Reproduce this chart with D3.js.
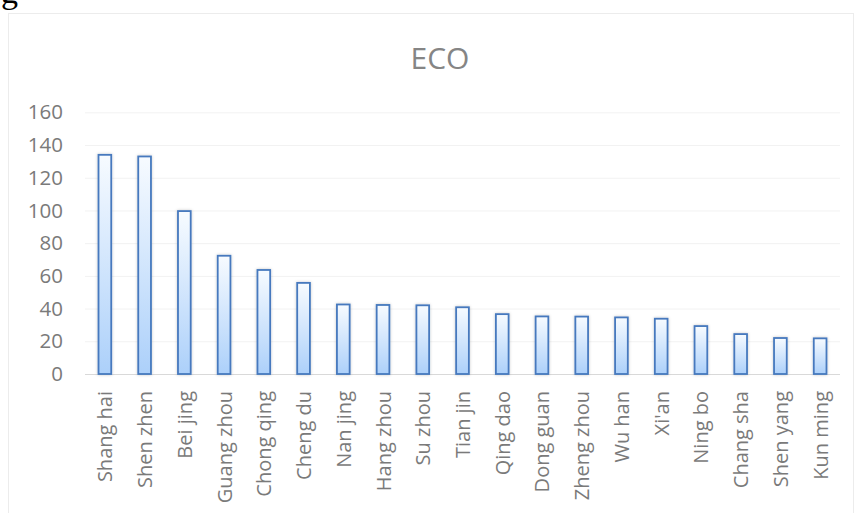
<!DOCTYPE html>
<html>
<head>
<meta charset="utf-8">
<script src="https://cdn.jsdelivr.net/npm/d3@7"></script>
<style>
  html, body { margin: 0; padding: 0; background: #fff; }
  svg { display: block; }
</style>
</head>
<body>
<svg id="chart" width="855" height="513"></svg>
<script>
// ECO score by city
const cities = ["Shang hai", "Shen zhen", "Bei jing", "Guang zhou", "Chong qing", "Cheng du",
  "Nan jing", "Hang zhou", "Su zhou", "Tian jin", "Qing dao", "Dong guan", "Zheng zhou",
  "Wu han", "Xi'an", "Ning bo", "Chang sha", "Shen yang", "Kun ming"];
const ecoValues = [134, 133, 99.6, 72.3, 63.6, 55.7, 42.5, 42.2, 42, 40.8, 36.6, 35.2, 35.1,
  34.6, 33.8, 29.3, 24.4, 22, 21.8];
const yTicks = [0, 20, 40, 60, 80, 100, 120, 140, 160];
const chartTitle = "ECO";

const svg = d3.select("#chart");
const font = "'Open Sans', 'DejaVu Sans', sans-serif";
const margin = { left: 85, right: 840, top: 112.3, bottom: 374 };

// Caption fragment from the line above the chart
svg.append("text")
  .attr("x", 1).attr("y", 3)
  .attr("font-family", "'Liberation Serif', serif")
  .attr("font-size", 34)
  .attr("fill", "#000")
  .text("g");

// Chart frame
svg.append("rect")
  .attr("x", 8.5).attr("y", 13.5)
  .attr("width", 845).attr("height", 520)
  .attr("fill", "#fff")
  .attr("stroke", "#ececec")
  .attr("stroke-width", 1);

const defs = svg.append("defs");
const grad = defs.append("linearGradient")
  .attr("id", "barFill").attr("x1", 0).attr("y1", 0).attr("x2", 0).attr("y2", 1);
grad.append("stop").attr("offset", "0%").attr("stop-color", "#f7fbff");
grad.append("stop").attr("offset", "100%").attr("stop-color", "#acd0fa");

const shadow = defs.append("filter").attr("id", "barShadow")
  .attr("x", "-50%").attr("y", "-10%").attr("width", "200%").attr("height", "120%");
shadow.append("feDropShadow")
  .attr("dx", 0).attr("dy", 0).attr("stdDeviation", 1.6)
  .attr("flood-color", "#000").attr("flood-opacity", 0.22);

const x = d3.scaleBand()
  .domain(cities)
  .range([margin.left, margin.right])
  .paddingInner(0.68).paddingOuter(0.34);

const y = d3.scaleLinear()
  .domain([0, 160])
  .range([margin.bottom, margin.top]);

// Title
svg.append("text")
  .attr("x", 440)
  .attr("y", 69)
  .attr("text-anchor", "middle")
  .attr("font-family", font)
  .attr("font-size", 30)
  .attr("fill", "#858585")
  .text(chartTitle);

// Gridlines and value axis labels
const yAxis = d3.axisLeft(y)
  .tickValues(yTicks)
  .tickSize(-(margin.right - margin.left))
  .tickPadding(22)
  .tickFormat(d3.format("d"));

const gy = svg.append("g")
  .attr("transform", `translate(${margin.left},0)`)
  .call(yAxis);
gy.select(".domain").remove();
gy.selectAll(".tick line")
  .attr("stroke", d => d === 0 ? "#d9d9d9" : "#f2f2f2")
  .attr("stroke-width", 1);
gy.selectAll(".tick text")
  .attr("font-family", font)
  .attr("font-size", 20.5)
  .attr("fill", "#7a7a7a");

// Bars
svg.append("g")
  .selectAll("rect")
  .data(cities.map((c, i) => ({ city: c, value: ecoValues[i] })))
  .join("rect")
  .attr("x", d => x(d.city))
  .attr("y", d => y(d.value))
  .attr("width", x.bandwidth())
  .attr("height", d => y(0) - y(d.value))
  .attr("fill", "url(#barFill)")
  .attr("stroke", "#4679be")
  .attr("stroke-width", 1.8)
  .attr("filter", "url(#barShadow)");

// Category axis labels
const xAxis = d3.axisBottom(x).tickSize(0).tickPadding(0);
const gx = svg.append("g")
  .attr("transform", `translate(0,${margin.bottom})`)
  .call(xAxis);
gx.select(".domain").remove();
gx.selectAll(".tick text")
  .attr("font-family", font)
  .attr("font-size", 20)
  .attr("fill", "#7a7a7a")
  .attr("text-anchor", "end")
  .attr("dy", null)
  .attr("transform", "translate(7.5,17) rotate(-90)")
  .attr("x", 0).attr("y", 0);
</script>
</body>
</html>
